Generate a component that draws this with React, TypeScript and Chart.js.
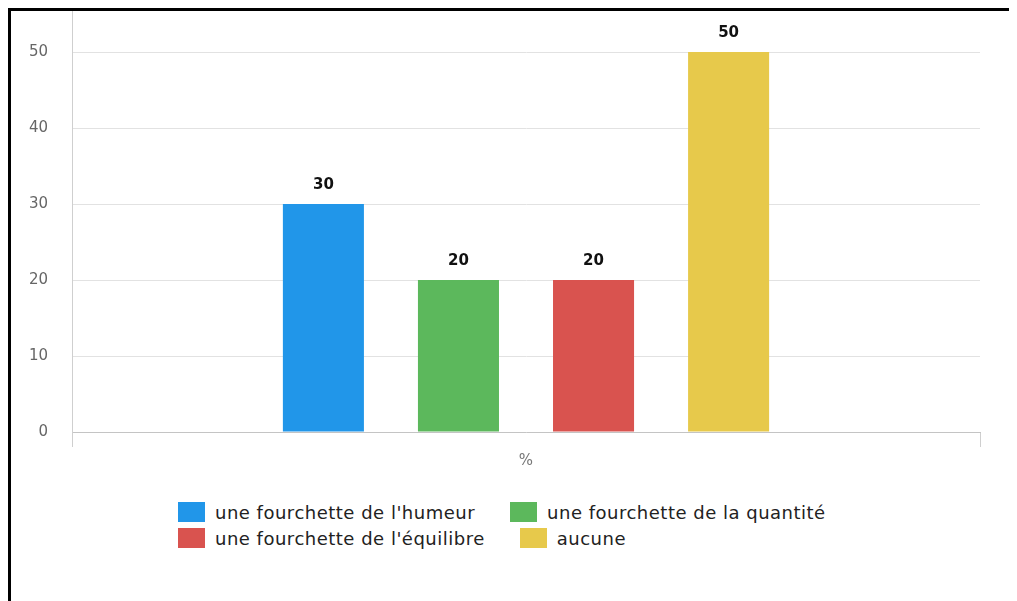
import React, { useEffect, useRef } from 'react';
import { Chart, registerables } from 'chart.js';

Chart.register(...registerables);

const categories = ['%'];
const seriesNames = [
  "une fourchette de l'humeur",
  'une fourchette de la quantité',
  "une fourchette de l'équilibre",
  'aucune',
];
const seriesValues = [30, 20, 20, 50];
const seriesColors = ['#2196E9', '#5CB85C', '#D9534F', '#E7C94B'];
const yTicks = [0, 10, 20, 30, 40, 50];
const yMax = 55.4;

const valueLabels = {
  id: 'valueLabels',
  afterDatasetsDraw(chart: any) {
    const ctx = chart.ctx;
    ctx.save();
    ctx.font = 'bold 15px "DejaVu Sans"';
    ctx.fillStyle = '#111';
    ctx.textAlign = 'center';
    ctx.textBaseline = 'middle';
    chart.data.datasets.forEach((ds: any, i: number) => {
      const meta = chart.getDatasetMeta(i);
      meta.data.forEach((el: any, j: number) => {
        ctx.fillText(String(ds.data[j]), el.x, el.y - 19);
      });
    });
    ctx.restore();
  },
};

export default function App() {
  const canvasRef = useRef<HTMLCanvasElement | null>(null);

  useEffect(() => {
    document.documentElement.style.overflow = 'hidden';
    const canvas = canvasRef.current;
    if (!canvas) return;
    const chart = new Chart(canvas, {
      type: 'bar',
      data: {
        labels: categories,
        datasets: seriesNames.map((name, i) => ({
          label: name,
          data: [seriesValues[i]],
          backgroundColor: seriesColors[i],
          borderWidth: 0,
          categoryPercentage: 0.595,
          barPercentage: 0.6,
        })),
      },
      options: {
        animation: false,
        responsive: true,
        maintainAspectRatio: false,
        layout: { padding: { left: 0, right: 37, top: 0, bottom: 0 } },
        plugins: {
          legend: { display: false },
          tooltip: { enabled: false },
          title: { display: false },
        },
        scales: {
          x: {
            offset: true,
            grid: {
              offset: true,
              drawOnChartArea: false,
              drawTicks: true,
              tickLength: 15,
              color: '#cfcfcf',
            },
            border: { display: true, color: '#c4c4c4', width: 1 },
            ticks: {
              padding: 5,
              color: '#777',
              font: { family: '"DejaVu Sans"', size: 15 },
            },
            afterFit: (scale: any) => {
              scale.height = 59;
              scale.paddingLeft = 0;
              scale.paddingRight = 0;
            },
          },
          y: {
            min: 0,
            max: yMax,
            grid: { drawTicks: false, color: '#e2e2e2' },
            border: { display: true, color: '#cfcfcf', width: 1 },
            ticks: {
              padding: 24,
              color: '#666',
              font: { family: '"DejaVu Sans"', size: 15 },
            },
            afterBuildTicks: (scale: any) => {
              scale.ticks = yTicks.map((v) => ({ value: v }));
            },
            afterFit: (scale: any) => {
              scale.width = 61;
              scale.paddingTop = 0;
              scale.paddingBottom = 0;
            },
          },
        },
      },
      plugins: [valueLabels],
    } as any);
    return () => chart.destroy();
  }, []);

  return (
    <div
      style={{
        position: 'relative',
        width: 1012,
        height: 590,
        borderTop: '3px solid #000',
        borderLeft: '3px solid #000',
        background: '#fff',
      }}
    >
      <div style={{ position: 'absolute', left: 0, top: 0, width: 1006, height: 480 }}>
        <canvas ref={canvasRef} />
      </div>
      <div
        style={{
          position: 'absolute',
          left: 167,
          top: 488,
          width: 760,
          display: 'flex',
          flexWrap: 'wrap',
          fontFamily: '"DejaVu Sans"',
          fontSize: 18,
          letterSpacing: '0.5px',
          color: '#222',
        }}
      >
        {seriesNames.map((name, i) => (
          <div
            key={name}
            style={{ display: 'flex', alignItems: 'center', height: 26, marginRight: 35 }}
          >
            <span
              style={{
                display: 'inline-block',
                width: 27,
                height: 20,
                background: seriesColors[i],
                marginRight: 10,
              }}
            />
            <span style={{ whiteSpace: 'nowrap' }}>{name}</span>
          </div>
        ))}
      </div>
    </div>
  );
}
